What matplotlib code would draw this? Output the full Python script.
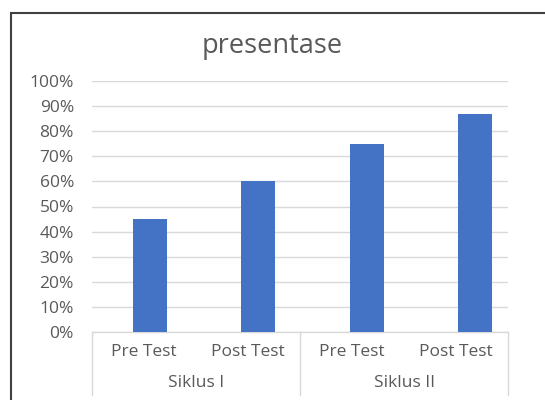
import matplotlib.pyplot as plt
from matplotlib.patches import Rectangle
from matplotlib.ticker import PercentFormatter

# data
tests = ['Pre Test', 'Post Test', 'Pre Test', 'Post Test']
cycles = ['Siklus I', 'Siklus II']
values = [45, 60, 75, 87]
yticks = list(range(0, 101, 10))

bar_color = '#4472C4'
grid_color = '#D9D9D9'
text_color = '#595959'
font = ['Open Sans', 'DejaVu Sans']

W, H = 545, 400
fig = plt.figure(figsize=(W / 100, H / 100), dpi=100)

# plot area in pixel terms -> figure fraction
left, right, top, bottom = 92, 508, 81, 332
rect = [left / W, 1 - bottom / H, (right - left) / W, (bottom - top) / H]

# category axis (labels + separators) on its own axes
cax = fig.add_axes(rect)
cax.set_xlim(-0.5, len(tests) - 0.5)
cax.set_ylim(0, 1)
cax.axis('off')

ax = fig.add_axes(rect)
ax.patch.set_alpha(0)
x = list(range(len(values)))
ax.bar(x, values, width=0.315, color=bar_color, zorder=3)

# the bars in the reference sit slightly right of the category centres
ax.set_xlim(-0.535, 3.305)
ax.set_ylim(0, 100)
ax.set_yticks(yticks)
ax.yaxis.set_major_formatter(PercentFormatter(decimals=0))
ax.tick_params(axis='y', length=0, pad=13, labelsize=12.5, labelcolor=text_color)
for lab in ax.get_yticklabels():
    lab.set_family(font)
ax.set_xticks([])
ax.grid(axis='y', color=grid_color, linewidth=1, zorder=0)
for s in ['top', 'right', 'left']:
    ax.spines[s].set_visible(False)
ax.spines['bottom'].set_color(grid_color)
ax.spines['bottom'].set_linewidth(1)

# multi-level category axis
tr = cax.get_xaxis_transform()
span = bottom - top
depth = (bottom - 395) / span
for i, t in enumerate(tests):
    cax.text(i, (bottom - 352) / span, t, transform=tr, ha='center', va='center',
             fontsize=12.5, color=text_color, family=font)
for j, c in enumerate(cycles):
    cax.text(2 * j + 0.5, (bottom - 383) / span, c, transform=tr, ha='center',
             va='center', fontsize=12.5, color=text_color, family=font)
for xs in [-0.5, 1.5, 3.5]:
    cax.plot([xs, xs], [0, depth], transform=tr, color=grid_color, linewidth=1, clip_on=False)

fig.text(0.5, 1 - 46 / H, 'presentase', ha='center', va='center', fontsize=19.5,
         color=text_color, family=font)

# chart border, clipped by the image on the right and bottom
fig.patches.append(Rectangle((10.5 / W, -0.05), 1.0, 1 - 13.5 / H + 0.05,
                             transform=fig.transFigure, fill=False,
                             edgecolor='#404040', linewidth=1.5))

fig.savefig('out.png', dpi=100)
